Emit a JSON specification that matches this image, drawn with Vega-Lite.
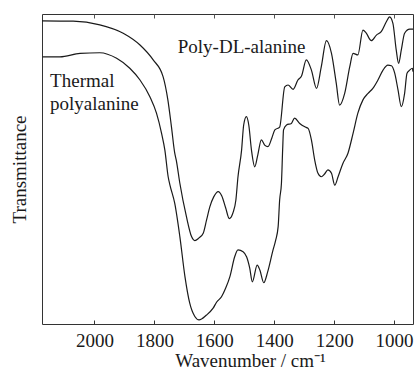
{
  "$schema": "https://vega.github.io/schema/vega-lite/v6.json",
  "width": 371,
  "height": 310,
  "autosize": {"type": "none"},
  "padding": {"left": 42, "top": 14, "right": 1, "bottom": 48},
  "background": "white",
  "config": {
    "view": {"stroke": "#333", "strokeWidth": 1},
    "font": "Liberation Serif",
    "axis": {"titleColor": "#1a1a1a", "labelColor": "#1a1a1a", "titleFont": "Liberation Serif", "titleFontWeight": "normal"}
  },
  "datasets": {
    "spectra": [
      {"series": "Poly-DL-alanine", "wn": 2175, "T": 97.8},
      {"series": "Poly-DL-alanine", "wn": 2071, "T": 97.7},
      {"series": "Poly-DL-alanine", "wn": 1982, "T": 96.5},
      {"series": "Poly-DL-alanine", "wn": 1904, "T": 93.8},
      {"series": "Poly-DL-alanine", "wn": 1848, "T": 90.0},
      {"series": "Poly-DL-alanine", "wn": 1804, "T": 85.2},
      {"series": "Poly-DL-alanine", "wn": 1771, "T": 79.8},
      {"series": "Poly-DL-alanine", "wn": 1755, "T": 72.3},
      {"series": "Poly-DL-alanine", "wn": 1743, "T": 63.6},
      {"series": "Poly-DL-alanine", "wn": 1732, "T": 55.1},
      {"series": "Poly-DL-alanine", "wn": 1727, "T": 52.9},
      {"series": "Poly-DL-alanine", "wn": 1715, "T": 45.4},
      {"series": "Poly-DL-alanine", "wn": 1693, "T": 34.6},
      {"series": "Poly-DL-alanine", "wn": 1676, "T": 28.2},
      {"series": "Poly-DL-alanine", "wn": 1665, "T": 26.9},
      {"series": "Poly-DL-alanine", "wn": 1652, "T": 27.7},
      {"series": "Poly-DL-alanine", "wn": 1637, "T": 29.3},
      {"series": "Poly-DL-alanine", "wn": 1626, "T": 33.5},
      {"series": "Poly-DL-alanine", "wn": 1615, "T": 37.8},
      {"series": "Poly-DL-alanine", "wn": 1602, "T": 41.0},
      {"series": "Poly-DL-alanine", "wn": 1587, "T": 42.7},
      {"series": "Poly-DL-alanine", "wn": 1575, "T": 41.3},
      {"series": "Poly-DL-alanine", "wn": 1562, "T": 37.4},
      {"series": "Poly-DL-alanine", "wn": 1550, "T": 34.0},
      {"series": "Poly-DL-alanine", "wn": 1538, "T": 35.8},
      {"series": "Poly-DL-alanine", "wn": 1528, "T": 40.0},
      {"series": "Poly-DL-alanine", "wn": 1521, "T": 47.5},
      {"series": "Poly-DL-alanine", "wn": 1509, "T": 56.1},
      {"series": "Poly-DL-alanine", "wn": 1502, "T": 64.2},
      {"series": "Poly-DL-alanine", "wn": 1493, "T": 66.9},
      {"series": "Poly-DL-alanine", "wn": 1485, "T": 64.2},
      {"series": "Poly-DL-alanine", "wn": 1476, "T": 56.1},
      {"series": "Poly-DL-alanine", "wn": 1465, "T": 50.7},
      {"series": "Poly-DL-alanine", "wn": 1455, "T": 54.5},
      {"series": "Poly-DL-alanine", "wn": 1443, "T": 59.4},
      {"series": "Poly-DL-alanine", "wn": 1432, "T": 57.7},
      {"series": "Poly-DL-alanine", "wn": 1421, "T": 57.2},
      {"series": "Poly-DL-alanine", "wn": 1408, "T": 60.0},
      {"series": "Poly-DL-alanine", "wn": 1398, "T": 62.6},
      {"series": "Poly-DL-alanine", "wn": 1382, "T": 63.5},
      {"series": "Poly-DL-alanine", "wn": 1365, "T": 76.5},
      {"series": "Poly-DL-alanine", "wn": 1354, "T": 77.1},
      {"series": "Poly-DL-alanine", "wn": 1337, "T": 75.7},
      {"series": "Poly-DL-alanine", "wn": 1321, "T": 78.7},
      {"series": "Poly-DL-alanine", "wn": 1309, "T": 80.0},
      {"series": "Poly-DL-alanine", "wn": 1293, "T": 85.2},
      {"series": "Poly-DL-alanine", "wn": 1276, "T": 81.9},
      {"series": "Poly-DL-alanine", "wn": 1259, "T": 76.0},
      {"series": "Poly-DL-alanine", "wn": 1243, "T": 83.0},
      {"series": "Poly-DL-alanine", "wn": 1226, "T": 91.4},
      {"series": "Poly-DL-alanine", "wn": 1209, "T": 87.3},
      {"series": "Poly-DL-alanine", "wn": 1193, "T": 77.6},
      {"series": "Poly-DL-alanine", "wn": 1182, "T": 70.6},
      {"series": "Poly-DL-alanine", "wn": 1165, "T": 74.4},
      {"series": "Poly-DL-alanine", "wn": 1148, "T": 83.0},
      {"series": "Poly-DL-alanine", "wn": 1137, "T": 87.3},
      {"series": "Poly-DL-alanine", "wn": 1121, "T": 86.8},
      {"series": "Poly-DL-alanine", "wn": 1104, "T": 94.8},
      {"series": "Poly-DL-alanine", "wn": 1093, "T": 93.8},
      {"series": "Poly-DL-alanine", "wn": 1076, "T": 91.4},
      {"series": "Poly-DL-alanine", "wn": 1059, "T": 93.2},
      {"series": "Poly-DL-alanine", "wn": 1043, "T": 94.3},
      {"series": "Poly-DL-alanine", "wn": 1026, "T": 97.5},
      {"series": "Poly-DL-alanine", "wn": 1015, "T": 99.1},
      {"series": "Poly-DL-alanine", "wn": 1004, "T": 97.0},
      {"series": "Poly-DL-alanine", "wn": 993, "T": 88.4},
      {"series": "Poly-DL-alanine", "wn": 985, "T": 84.1},
      {"series": "Poly-DL-alanine", "wn": 976, "T": 88.4},
      {"series": "Poly-DL-alanine", "wn": 965, "T": 93.8},
      {"series": "Poly-DL-alanine", "wn": 948, "T": 95.1},
      {"series": "Poly-DL-alanine", "wn": 937, "T": 95.1},
      {"series": "Thermal polyalanine", "wn": 2173, "T": 86.2},
      {"series": "Thermal polyalanine", "wn": 2115, "T": 86.2},
      {"series": "Thermal polyalanine", "wn": 2048, "T": 87.3},
      {"series": "Thermal polyalanine", "wn": 1982, "T": 87.5},
      {"series": "Thermal polyalanine", "wn": 1926, "T": 85.7},
      {"series": "Thermal polyalanine", "wn": 1882, "T": 82.5},
      {"series": "Thermal polyalanine", "wn": 1848, "T": 78.7},
      {"series": "Thermal polyalanine", "wn": 1815, "T": 73.3},
      {"series": "Thermal polyalanine", "wn": 1793, "T": 68.0},
      {"series": "Thermal polyalanine", "wn": 1776, "T": 61.5},
      {"series": "Thermal polyalanine", "wn": 1765, "T": 56.1},
      {"series": "Thermal polyalanine", "wn": 1754, "T": 47.5},
      {"series": "Thermal polyalanine", "wn": 1748, "T": 44.8},
      {"series": "Thermal polyalanine", "wn": 1732, "T": 38.9},
      {"series": "Thermal polyalanine", "wn": 1715, "T": 28.2},
      {"series": "Thermal polyalanine", "wn": 1698, "T": 15.3},
      {"series": "Thermal polyalanine", "wn": 1682, "T": 6.7},
      {"series": "Thermal polyalanine", "wn": 1665, "T": 2.4},
      {"series": "Thermal polyalanine", "wn": 1651, "T": 1.3},
      {"series": "Thermal polyalanine", "wn": 1626, "T": 2.9},
      {"series": "Thermal polyalanine", "wn": 1604, "T": 5.1},
      {"series": "Thermal polyalanine", "wn": 1592, "T": 7.1},
      {"series": "Thermal polyalanine", "wn": 1576, "T": 8.8},
      {"series": "Thermal polyalanine", "wn": 1562, "T": 11.6},
      {"series": "Thermal polyalanine", "wn": 1548, "T": 15.3},
      {"series": "Thermal polyalanine", "wn": 1532, "T": 21.7},
      {"series": "Thermal polyalanine", "wn": 1521, "T": 23.9},
      {"series": "Thermal polyalanine", "wn": 1504, "T": 23.3},
      {"series": "Thermal polyalanine", "wn": 1492, "T": 21.6},
      {"series": "Thermal polyalanine", "wn": 1482, "T": 18.1},
      {"series": "Thermal polyalanine", "wn": 1473, "T": 13.6},
      {"series": "Thermal polyalanine", "wn": 1457, "T": 19.0},
      {"series": "Thermal polyalanine", "wn": 1448, "T": 17.4},
      {"series": "Thermal polyalanine", "wn": 1435, "T": 13.3},
      {"series": "Thermal polyalanine", "wn": 1422, "T": 16.8},
      {"series": "Thermal polyalanine", "wn": 1404, "T": 23.9},
      {"series": "Thermal polyalanine", "wn": 1395, "T": 27.1},
      {"series": "Thermal polyalanine", "wn": 1387, "T": 31.4},
      {"series": "Thermal polyalanine", "wn": 1382, "T": 40.0},
      {"series": "Thermal polyalanine", "wn": 1376, "T": 45.4},
      {"series": "Thermal polyalanine", "wn": 1372, "T": 56.1},
      {"series": "Thermal polyalanine", "wn": 1369, "T": 62.6},
      {"series": "Thermal polyalanine", "wn": 1359, "T": 64.2},
      {"series": "Thermal polyalanine", "wn": 1343, "T": 64.7},
      {"series": "Thermal polyalanine", "wn": 1332, "T": 66.4},
      {"series": "Thermal polyalanine", "wn": 1315, "T": 64.7},
      {"series": "Thermal polyalanine", "wn": 1298, "T": 63.6},
      {"series": "Thermal polyalanine", "wn": 1287, "T": 63.1},
      {"series": "Thermal polyalanine", "wn": 1276, "T": 59.4},
      {"series": "Thermal polyalanine", "wn": 1265, "T": 52.9},
      {"series": "Thermal polyalanine", "wn": 1254, "T": 48.6},
      {"series": "Thermal polyalanine", "wn": 1243, "T": 47.5},
      {"series": "Thermal polyalanine", "wn": 1232, "T": 48.4},
      {"series": "Thermal polyalanine", "wn": 1221, "T": 49.7},
      {"series": "Thermal polyalanine", "wn": 1209, "T": 48.6},
      {"series": "Thermal polyalanine", "wn": 1198, "T": 44.8},
      {"series": "Thermal polyalanine", "wn": 1187, "T": 47.5},
      {"series": "Thermal polyalanine", "wn": 1171, "T": 51.8},
      {"series": "Thermal polyalanine", "wn": 1154, "T": 55.1},
      {"series": "Thermal polyalanine", "wn": 1137, "T": 61.5},
      {"series": "Thermal polyalanine", "wn": 1121, "T": 68.0},
      {"series": "Thermal polyalanine", "wn": 1104, "T": 72.3},
      {"series": "Thermal polyalanine", "wn": 1087, "T": 74.4},
      {"series": "Thermal polyalanine", "wn": 1071, "T": 76.0},
      {"series": "Thermal polyalanine", "wn": 1054, "T": 78.7},
      {"series": "Thermal polyalanine", "wn": 1037, "T": 81.9},
      {"series": "Thermal polyalanine", "wn": 1021, "T": 83.5},
      {"series": "Thermal polyalanine", "wn": 1009, "T": 83.3},
      {"series": "Thermal polyalanine", "wn": 998, "T": 80.9},
      {"series": "Thermal polyalanine", "wn": 987, "T": 75.5},
      {"series": "Thermal polyalanine", "wn": 976, "T": 70.1},
      {"series": "Thermal polyalanine", "wn": 965, "T": 74.4},
      {"series": "Thermal polyalanine", "wn": 957, "T": 80.9},
      {"series": "Thermal polyalanine", "wn": 948, "T": 81.9},
      {"series": "Thermal polyalanine", "wn": 939, "T": 82.5},
      {"series": "Thermal polyalanine", "wn": 937, "T": 81.4}
    ],
    "labels": [
      {"label": "Poly-DL-alanine", "wn": 1722, "T": 87.4},
      {"label": "Thermal", "wn": 2148, "T": 76.5},
      {"label": "polyalanine", "wn": 2148, "T": 69.0}
    ]
  },
  "resolve": {"axis": {"x": "independent"}},
  "encoding": {
    "y": {
      "field": "T", "type": "quantitative",
      "scale": {"domain": [0, 100], "nice": false},
      "axis": {
        "ticks": false, "labels": false, "domain": false, "grid": false,
        "title": "Transmittance",
        "titleFont": "Liberation Serif",
        "titleFontSize": 19,
        "titleFontWeight": "normal",
        "titleColor": "#1a1a1a",
        "titlePadding": 13
      }
    }
  },
  "layer": [
    {
      "data": {"name": "spectra"},
      "mark": {"type": "line", "color": "#1a1a1a", "strokeWidth": 1.2, "interpolate": "monotone"},
      "encoding": {
        "x": {
          "field": "wn", "type": "quantitative",
          "scale": {"domain": [2175, 937], "nice": false, "zero": false},
          "axis": {
            "orient": "bottom",
            "values": [2000, 1800, 1600, 1400, 1200, 1000],
            "format": "d",
            "domain": false,
            "grid": false,
            "tickSize": -4,
            "tickColor": "#333",
            "labelFont": "Liberation Serif",
            "labelFontSize": 19,
            "labelColor": "#1a1a1a",
            "labelPadding": 11,
            "labelFlush": false,
            "title": "Wavenumber / cm⁻¹",
            "titleFont": "Liberation Serif",
            "titleFontSize": 19,
            "titleFontWeight": "normal",
            "titleColor": "#1a1a1a",
            "titleX": 208,
            "titleY": 42,
            "titleBaseline": "alphabetic",
            "titleAnchor": "middle"
          }
        },
        "detail": {"field": "series", "type": "nominal"}
      }
    },
    {
      "data": {"name": "labels"},
      "mark": {"type": "text", "font": "Liberation Serif", "fontSize": 19, "align": "left", "baseline": "alphabetic", "color": "#1a1a1a"},
      "encoding": {
        "x": {
          "field": "wn", "type": "quantitative",
          "axis": {
            "orient": "top",
            "values": [2000, 1800, 1600, 1400, 1200, 1000],
            "labels": false, "domain": false, "grid": false,
            "tickSize": -4, "tickColor": "#555", "title": null
          }
        },
        "text": {"field": "label"}
      }
    }
  ]
}
